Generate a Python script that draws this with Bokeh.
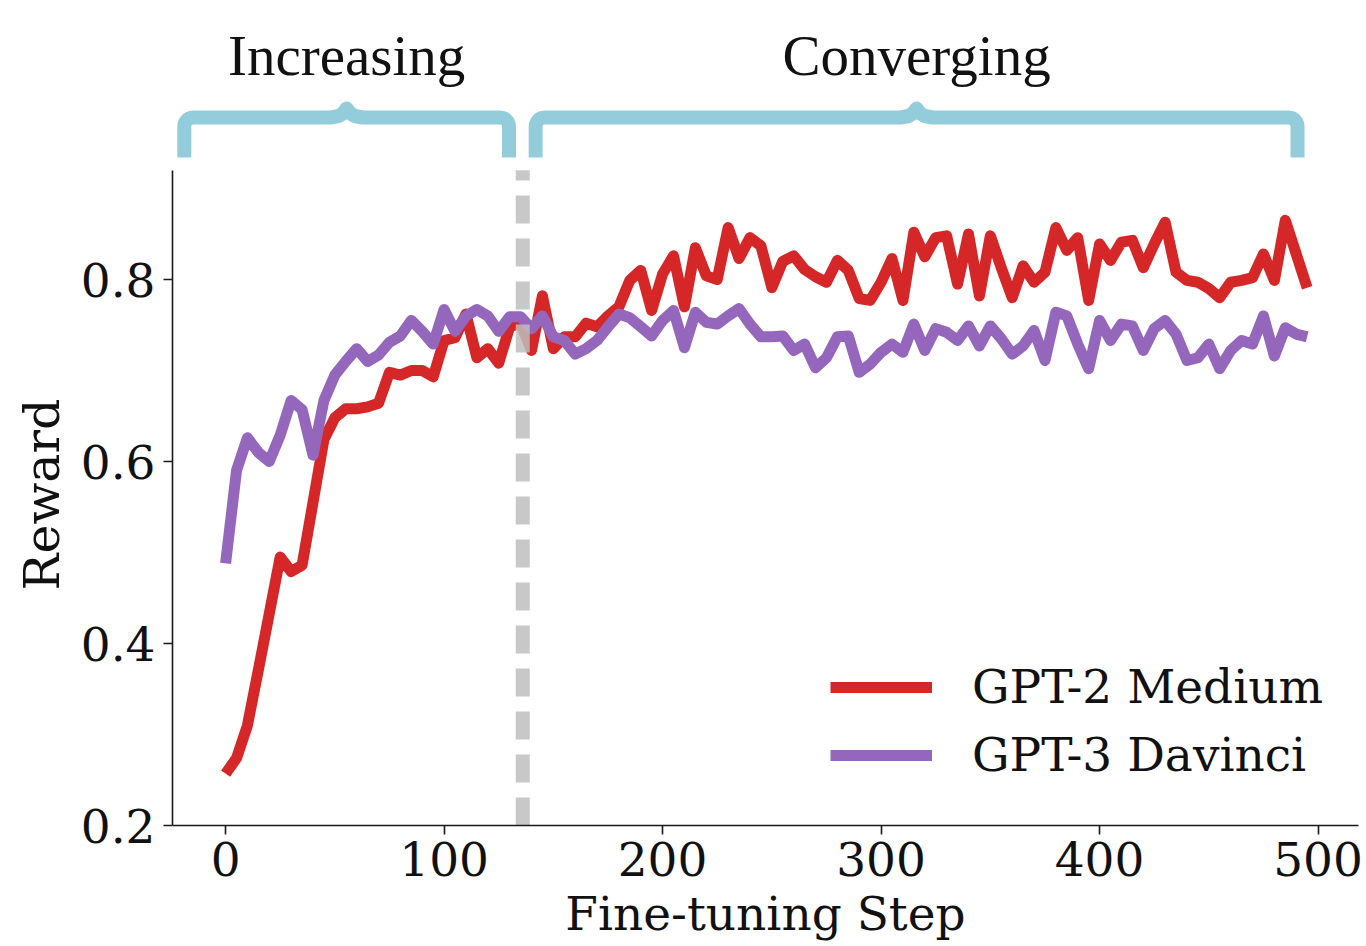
import numpy as np
from bokeh.plotting import figure
from bokeh.models import Range1d, FixedTicker, Legend, LegendItem, Title
from bokeh.core.properties import value
from bokeh.embed import file_html
from bokeh.resources import INLINE

# ---------------- data ----------------
steps = list(range(0, 500, 5))

gpt2_medium = [
    0.257, 0.274, 0.310, 0.371, 0.433, 0.495, 0.479, 0.486, 0.555, 0.624,
    0.648, 0.658, 0.658, 0.660, 0.664, 0.698, 0.695, 0.700, 0.700, 0.693,
    0.733, 0.736, 0.762, 0.714, 0.724, 0.708, 0.748, 0.752, 0.722, 0.782,
    0.724, 0.737, 0.737, 0.752, 0.748, 0.760, 0.770, 0.799, 0.810, 0.766,
    0.806, 0.826, 0.770, 0.835, 0.804, 0.800, 0.857, 0.823, 0.846, 0.837,
    0.791, 0.820, 0.826, 0.811, 0.803, 0.797, 0.821, 0.810, 0.779, 0.777,
    0.797, 0.823, 0.777, 0.852, 0.825, 0.846, 0.848, 0.795, 0.850, 0.782,
    0.848, 0.813, 0.780, 0.815, 0.797, 0.808, 0.857, 0.832, 0.846, 0.777,
    0.839, 0.821, 0.841, 0.843, 0.813, 0.839, 0.863, 0.808, 0.799, 0.797,
    0.790, 0.780, 0.797, 0.799, 0.802, 0.828, 0.799, 0.865, 0.828, 0.791,
]

gpt3_davinci = [
    0.488, 0.590, 0.626, 0.610, 0.600, 0.629, 0.667, 0.657, 0.607, 0.667,
    0.695, 0.710, 0.724, 0.710, 0.717, 0.731, 0.738, 0.755, 0.743, 0.729,
    0.767, 0.743, 0.760, 0.767, 0.760, 0.743, 0.759, 0.759, 0.746, 0.760,
    0.737, 0.733, 0.718, 0.724, 0.733, 0.748, 0.762, 0.758, 0.748, 0.738,
    0.755, 0.766, 0.725, 0.764, 0.753, 0.751, 0.760, 0.768, 0.751, 0.737,
    0.737, 0.738, 0.722, 0.729, 0.703, 0.714, 0.737, 0.738, 0.698, 0.707,
    0.720, 0.729, 0.720, 0.751, 0.722, 0.746, 0.742, 0.733, 0.749, 0.727,
    0.749, 0.735, 0.718, 0.727, 0.744, 0.711, 0.764, 0.760, 0.729, 0.702,
    0.755, 0.733, 0.751, 0.749, 0.722, 0.746, 0.755, 0.740, 0.711, 0.714,
    0.729, 0.702, 0.722, 0.733, 0.729, 0.760, 0.716, 0.747, 0.740, 0.737,
]

series_names = ["GPT-2 Medium", "GPT-3 Davinci"]
x_ticks = [0, 100, 200, 300, 400, 500]
y_ticks = [0.2, 0.4, 0.6, 0.8]

phase_names = ["Increasing", "Converging"]
phase_start = [-18.9, 141.9]
phase_end = [129.7, 490.6]
split_step = 136

# ---------------- layout constants ----------------
W, H = 1366, 946
LEFT, RIGHT, TOP, BOTTOM = 172, 8, 10, 121
X0, X1 = -24.3, 518.5
Y0 = 0.2
PX_PER_Y = 910.0
Y1 = Y0 + (H - TOP - BOTTOM) / PX_PER_Y
PX_PER_X = (W - LEFT - RIGHT) / (X1 - X0)
kx = 1.0 / PX_PER_X
ky = 1.0 / PX_PER_Y


def y_at_px(py):
    return Y0 + (825 - py) * ky


p = figure(width=W, height=H, output_backend="svg", toolbar_location=None,
           x_range=Range1d(X0, X1), y_range=Range1d(Y0, Y1),
           min_border_left=LEFT, min_border_right=RIGHT,
           min_border_top=TOP, min_border_bottom=BOTTOM,
           x_axis_label="Fine-tuning Step")
p.grid.visible = False
p.outline_line_color = None
p.background_fill_color = "white"
p.border_fill_color = "white"

for ax in (p.xaxis[0], p.yaxis[0]):
    ax.axis_line_width = 1.6
    ax.axis_line_color = "#1a1a1a"
    ax.major_tick_line_width = 1.6
    ax.major_tick_line_color = "#1a1a1a"
    ax.major_tick_out = 9
    ax.major_tick_in = 0
    ax.minor_tick_line_color = None
    ax.major_label_text_font = "DejaVu Serif"
    ax.major_label_text_font_size = "47px"
    ax.major_label_text_color = "#111111"
    ax.axis_label_text_font = "DejaVu Serif"
    ax.axis_label_text_font_size = "47px"
    ax.axis_label_text_font_style = "normal"
    ax.axis_label_text_color = "#111111"

p.xaxis.ticker = FixedTicker(ticks=x_ticks)
p.yaxis.ticker = FixedTicker(ticks=y_ticks)
p.yaxis.bounds = (0.2, 0.92)
p.xaxis.major_label_standoff = 7
p.xaxis.axis_label_standoff = 7
p.yaxis.major_label_standoff = 8

# y axis title: starts 235 px above the frame bottom so it is centred on the spine
p.add_layout(Title(text="Reward", align="left", offset=235,
                   text_font="DejaVu Serif", text_font_size="49px",
                   text_font_style="normal", text_color="#111111", standoff=14), "left")

# ---------------- lines ----------------
r1 = p.line(steps, gpt2_medium, line_color="#d62728", line_width=11, line_join="round")
r2 = p.line(steps, gpt3_davinci, line_color="#9467bd", line_width=11, line_join="round")

# split marker
p.segment(x0=[split_step], y0=[0.2], x1=[split_step], y1=[0.92],
          line_color="#bebebe", line_alpha=0.85, line_width=14, line_dash="28 15")

# ---------------- brackets ----------------
yb = y_at_px(157)
yt = y_at_px(117)
r = 9.0  # corner radius in px


def bracket(xa, xb):
    xs, ys = [xa], [yb]
    cx, cy = xa + r * kx, yt - r * ky
    for t in np.linspace(np.pi, np.pi / 2, 10):
        xs.append(cx + r * kx * np.cos(t)); ys.append(cy + r * ky * np.sin(t))
    mid = (xa + xb) / 2
    cusp = [(-16, 0), (-8, 1.5), (-4, 4), (-1.5, 7), (0, 9)]
    for dx, dy in cusp:
        xs.append(mid + dx * kx); ys.append(yt + dy * ky)
    for dx, dy in reversed(cusp[:-1]):
        xs.append(mid - dx * kx); ys.append(yt + dy * ky)
    cx = xb - r * kx
    for t in np.linspace(np.pi / 2, 0, 10):
        xs.append(cx + r * kx * np.cos(t)); ys.append(cy + r * ky * np.sin(t))
    xs.append(xb); ys.append(yb)
    return xs, ys


bx, by = [], []
for a, b in zip(phase_start, phase_end):
    xs, ys = bracket(a, b)
    bx.append(xs); by.append(ys)
p.multi_line(bx, by, line_color="#93cddb", line_width=14, line_join="round")

mids = [(a + b) / 2 for a, b in zip(phase_start, phase_end)]
p.text(x=mids, y=[y_at_px(55)] * len(mids), text=phase_names,
       text_font=value("Liberation Serif"), text_font_size="57px",
       text_align="center", text_baseline="alphabetic", text_color="#111111")

# ---------------- legend ----------------
legend = Legend(items=[LegendItem(label=series_names[0], renderers=[r1]),
                       LegendItem(label=series_names[1], renderers=[r2])],
                location=(658, 43), padding=0, margin=0,
                border_line_color=None, background_fill_alpha=0,
                glyph_width=102, glyph_height=54, label_height=54,
                label_standoff=40, spacing=13,
                label_text_font="DejaVu Serif", label_text_font_size="47px",
                label_text_color="#111111")
p.add_layout(legend)

open("out.html", "w").write(file_html(p, INLINE))
